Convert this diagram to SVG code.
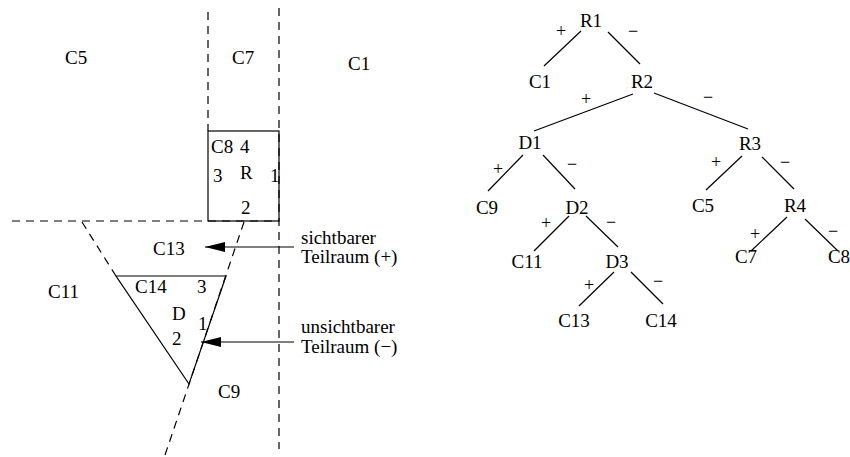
<svg xmlns="http://www.w3.org/2000/svg" width="850" height="457" viewBox="0 0 850 457">
<defs>
<style>
text{font-family:"Liberation Serif","Times New Roman",serif;font-size:19px;fill:#000}
.t{text-anchor:middle}
.s{font-size:18px;text-anchor:middle}
.ln{stroke:#000;stroke-width:1.2;fill:none}
.d{stroke:#000;stroke-width:1.2;fill:none;stroke-dasharray:8,6}
</style>
<marker id="ah" markerUnits="userSpaceOnUse" markerWidth="20" markerHeight="10" refX="20" refY="5" orient="auto">
<path d="M0,0 L20,5 L0,10 z" fill="#000"/>
</marker>
</defs>
<rect width="850" height="457" fill="#fff"/>

<g id="plan">
<line class="d" x1="208" y1="12" x2="208" y2="131"/>
<line class="d" x1="279" y1="8" x2="279" y2="449"/>
<line class="d" x1="12" y1="221" x2="279" y2="221"/>
<line class="d" x1="82" y1="222" x2="116" y2="276"/>
<line class="d" x1="244" y1="222" x2="165" y2="455"/>
<rect class="ln" x="208" y="131" width="71" height="90"/>
<polygon class="ln" points="116,276 226,276 189,384"/>
<text x="65" y="64">C5</text>
<text x="232" y="64">C7</text>
<text x="348" y="70">C1</text>
<text x="211" y="153">C8</text>
<text x="240" y="153">4</text>
<text x="213" y="182">3</text>
<text x="240" y="179">R</text>
<text x="270" y="182">1</text>
<text x="241" y="214">2</text>
<text x="153" y="255">C13</text>
<text x="135" y="293">C14</text>
<text x="197" y="293">3</text>
<text x="172" y="320">D</text>
<text x="198" y="330">1</text>
<text x="172" y="345">2</text>
<text x="218" y="398">C9</text>
<text x="48" y="298">C11</text>
<text x="301" y="244">sichtbarer</text>
<text x="301" y="263">Teilraum (+)</text>
<text x="301" y="333">unsichtbarer</text>
<text x="301" y="353">Teilraum (−)</text>
<line class="ln" x1="294" y1="247" x2="205" y2="247" marker-end="url(#ah)"/>
<line class="ln" x1="294" y1="342" x2="201" y2="342" marker-end="url(#ah)"/>
</g>

<g id="connectors">
<line class="ln" x1="581" y1="31" x2="544" y2="66"/>
<line class="ln" x1="608" y1="32" x2="640" y2="64"/>
<line class="ln" x1="633" y1="94" x2="534" y2="131"/>
<line class="ln" x1="654" y1="93" x2="748" y2="129"/>
<line class="ln" x1="523" y1="155" x2="488" y2="191"/>
<line class="ln" x1="543" y1="155" x2="575" y2="189"/>
<line class="ln" x1="742" y1="156" x2="706" y2="190"/>
<line class="ln" x1="762" y1="157" x2="794" y2="189"/>
<line class="ln" x1="569" y1="216" x2="534" y2="251"/>
<line class="ln" x1="586" y1="216" x2="618" y2="247"/>
<line class="ln" x1="787" y1="217" x2="751" y2="251"/>
<line class="ln" x1="805" y1="219" x2="838" y2="251"/>
<line class="ln" x1="614" y1="272" x2="579" y2="306"/>
<line class="ln" x1="631" y1="272" x2="663" y2="304"/>
<text class="s" x="561" y="37">+</text>
<text class="s" x="633" y="37">−</text>
<text class="s" x="586" y="105">+</text>
<text class="s" x="708" y="103">−</text>
<text class="s" x="498" y="175">+</text>
<text class="s" x="572" y="170">−</text>
<text class="s" x="716" y="168">+</text>
<text class="s" x="785" y="168">−</text>
<text class="s" x="546" y="229">+</text>
<text class="s" x="611" y="228">−</text>
<text class="s" x="755" y="240">+</text>
<text class="s" x="833" y="237">−</text>
<text class="s" x="589" y="291">+</text>
<text class="s" x="658" y="287">−</text>
</g>

<g id="R1"><text class="t" x="591" y="27">R1</text></g>
<g id="C1"><text class="t" x="540" y="88">C1</text></g>
<g id="R2"><text class="t" x="642" y="88">R2</text></g>
<g id="D1"><text class="t" x="530" y="149">D1</text></g>
<g id="R3"><text class="t" x="750" y="150">R3</text></g>
<g id="C9"><text class="t" x="487" y="214">C9</text></g>
<g id="D2"><text class="t" x="577" y="214">D2</text></g>
<g id="C5"><text class="t" x="703" y="212">C5</text></g>
<g id="R4"><text class="t" x="795" y="212">R4</text></g>
<g id="C11"><text class="t" x="527" y="268">C11</text></g>
<g id="D3"><text class="t" x="617" y="268">D3</text></g>
<g id="C7"><text class="t" x="746" y="263">C7</text></g>
<g id="C8"><text class="t" x="839" y="263">C8</text></g>
<g id="C13"><text class="t" x="574" y="327">C13</text></g>
<g id="C14"><text class="t" x="661" y="327">C14</text></g>
</svg>
